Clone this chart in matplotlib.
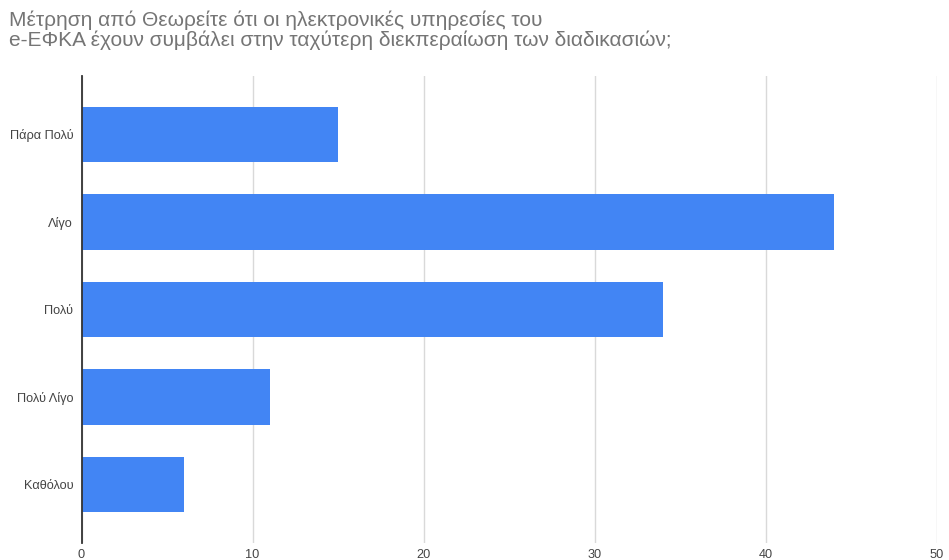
import matplotlib.pyplot as plt

plt.rcParams['font.family'] = ['Liberation Sans', 'DejaVu Sans']

# survey answers, top to bottom
categories = ["Πάρα Πολύ", "Λίγο", "Πολύ", "Πολύ Λίγο", "Καθόλου"]
counts = [15, 44, 34, 11, 6]
x_ticks = [0, 10, 20, 30, 40, 50]

title = ("Μέτρηση από Θεωρείτε ότι οι ηλεκτρονικές υπηρεσίες του\n"
         "e-ΕΦΚΑ έχουν συμβάλει στην ταχύτερη διεκπεραίωση των διαδικασιών;")

fig = plt.figure(figsize=(9.49, 5.6), dpi=100)
ax = fig.add_axes([0.0859, 0.0304, 0.9015, 0.834])

pos = list(range(len(categories)))
ax.barh(pos, counts, height=0.63, color="#4285F4", zorder=3)

ax.set_ylim(len(categories) - 1 + 0.669, -0.669)
ax.set_xlim(0, 50)
ax.set_xticks(x_ticks)
ax.set_yticks(pos)
ax.set_yticklabels(categories)

ax.grid(axis="x", color="#d9d9d9", linewidth=1.0, zorder=0)
ax.set_axisbelow(True)
for side in ("top", "right", "bottom"):
    ax.spines[side].set_visible(False)
ax.spines["left"].set_color("#333333")
ax.spines["left"].set_linewidth(1.3)
ax.spines["left"].set_zorder(4)

ax.tick_params(axis="both", length=0, labelsize=9.2, colors="#444444")
ax.tick_params(axis="y", pad=6)
ax.tick_params(axis="x", pad=4)

fig.text(0.009, 0.982, title, ha="left", va="top", fontsize=15,
         color="#757575", linespacing=1.08)

fig.savefig("out.png", dpi=100)
